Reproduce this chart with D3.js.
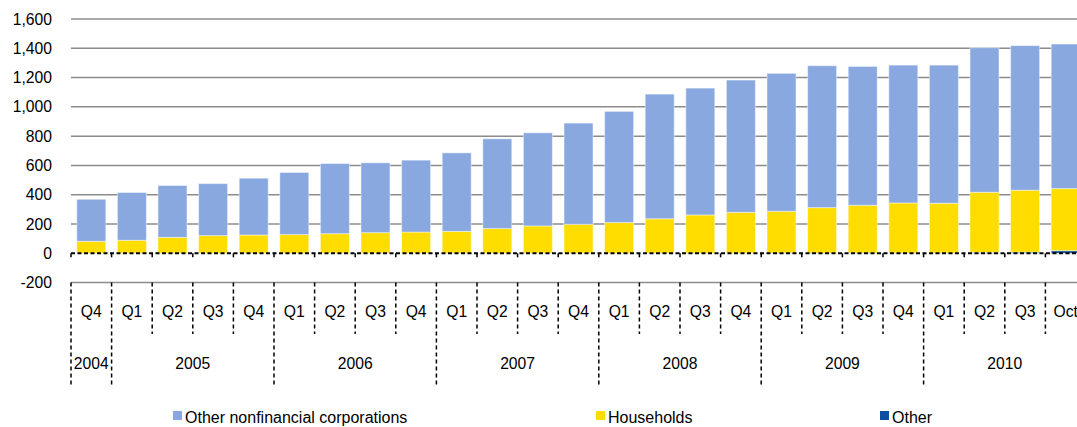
<!DOCTYPE html>
<html lang="en">

<head>
    <meta charset="UTF-8" />
    <title>Stacked bars</title>
    <script src="https://d3js.org/d3.v7.min.js"></script>
    <style>
        body {
            margin: 0;
            background: #fff;
        }

        svg {
            display: block;
            overflow: hidden;
            font-family: "Liberation Sans", Arial, sans-serif;
            font-size: 15.7px;
            fill: #000;
        }

        .grid line {
            stroke: #8c8c8c;
            stroke-width: 1.5px;
        }

        .sep {
            stroke: #000;
            stroke-width: 1.5px;
            stroke-dasharray: 4, 3;
        }
    </style>
</head>

<body>
    <svg width="1077" height="427"></svg>
    <script>
        // categories
        const quarters = ["Q4", "Q1", "Q2", "Q3", "Q4", "Q1", "Q2", "Q3", "Q4", "Q1", "Q2", "Q3", "Q4",
            "Q1", "Q2", "Q3", "Q4", "Q1", "Q2", "Q3", "Q4", "Q1", "Q2", "Q3", "Oct"];
        const years = ["2004", "2005", "2006", "2007", "2008", "2009", "2010"];
        const yearSpans = [1, 4, 4, 4, 4, 4, 4];

        // series (stacked from bottom: other, households, corporations)
        const other = [1, 1, 1, 1, 1, 1, 1, 1, 1, 1, 1, 1, 1, 1, 1, 1, 1, 2, 2, 2, 2, 2, 6, 8, 18];
        const households = [81, 88, 108, 120, 124, 127, 133, 140, 144, 149, 168, 186, 197, 209, 235,
            261, 279, 285, 310, 326, 342, 340, 411, 423, 424];
        const corporations = [287, 326, 354, 355, 388, 424, 479, 477, 491, 536, 613, 636, 691, 759, 851,
            866, 903, 942, 969, 948, 941, 943, 987, 987, 987];

        const seriesNames = ["Other nonfinancial corporations", "Households", "Other"];
        const yTicks = [-200, 0, 200, 400, 600, 800, 1000, 1200, 1400, 1600];

        const colors = {
            corporations: "#89a8e0",
            households: "#ffdd00",
            other: "#0b4ea2"
        };

        var svg = d3.select("svg");
        const left = 71,
            right = 1086; // plot runs past the window edge, last bar is cut

        var x = d3.scaleBand()
            .domain(d3.range(quarters.length))
            .range([left, right])
            .paddingInner(0.286)
            .paddingOuter(0.143);

        var y = d3.scaleLinear()
            .domain([-200, 1600])
            .range([282.6, 19]);

        // left edge of category i
        const bound = i => x(0) + x.bandwidth() / 2 - x.step() / 2 + i * x.step();

        // gridlines (all but zero, which is dashed later)
        svg.append("g")
            .attr("class", "grid")
            .selectAll("line")
            .data(yTicks.filter(d => d !== 0))
            .enter()
            .append("line")
            .attr("x1", left)
            .attr("x2", right)
            .attr("y1", d => y(d))
            .attr("y2", d => y(d));

        // y labels (plain hyphen for negatives)
        const fmt = d3.format(",");
        var yAxis = svg.append("g")
            .attr("transform", "translate(" + 52 + ",0)")
            .call(d3.axisLeft(y).tickValues(yTicks).tickFormat(d => fmt(d).replace("−", "-")).tickSize(0).tickPadding(0));
        yAxis.select(".domain").remove();
        yAxis.selectAll("text")
            .attr("font-family", "Liberation Sans, Arial, sans-serif")
            .attr("font-size", "15.7px")
            .attr("fill", "#000");

        // stacked bars
        const rows = quarters.map((q, i) => ({
            other: other[i],
            households: households[i],
            corporations: corporations[i]
        }));
        const stack = d3.stack().keys(["other", "households", "corporations"]);
        const layers = stack(rows);

        svg.append("g")
            .selectAll("g")
            .data(layers)
            .enter()
            .append("g")
            .attr("fill", d => colors[d.key])
            .selectAll("rect")
            .data(d => d)
            .enter()
            .append("rect")
            .attr("x", (d, i) => x(i))
            .attr("width", x.bandwidth())
            .attr("y", d => y(d[1]))
            .attr("height", d => y(d[0]) - y(d[1]))
            .attr("stroke", "rgba(255,255,255,0.45)")
            .attr("stroke-width", 1);

        // dashed zero line with small ticks
        svg.append("line")
            .attr("x1", left)
            .attr("x2", right)
            .attr("y1", y(0))
            .attr("y2", y(0))
            .attr("stroke", "#000")
            .attr("stroke-width", 2)
            .attr("stroke-dasharray", "4,2.5");
        svg.append("g")
            .selectAll("line")
            .data(d3.range(quarters.length + 1))
            .enter()
            .append("line")
            .attr("x1", d => bound(d))
            .attr("x2", d => bound(d))
            .attr("y1", y(0))
            .attr("y2", y(0) + 4)
            .attr("stroke", "#000")
            .attr("stroke-width", 1.5);

        // category separators: years run deeper than quarters
        const yearStarts = [0];
        yearSpans.forEach(s => yearStarts.push(yearStarts[yearStarts.length - 1] + s));
        svg.append("g")
            .selectAll("line")
            .data(d3.range(quarters.length + 1))
            .enter()
            .append("line")
            .attr("class", "sep")
            .attr("x1", d => bound(d))
            .attr("x2", d => bound(d))
            .attr("y1", y(-200))
            .attr("y2", d => yearStarts.includes(d) ? 385 : 334);

        // quarter labels
        svg.append("g")
            .selectAll("text")
            .data(quarters)
            .enter()
            .append("text")
            .attr("x", (d, i) => x(i) + x.bandwidth() / 2)
            .attr("y", 311.7)
            .attr("dy", "0.35em")
            .attr("text-anchor", "middle")
            .text(d => d);

        // year labels
        svg.append("g")
            .selectAll("text")
            .data(years)
            .enter()
            .append("text")
            .attr("x", (d, i) => (bound(yearStarts[i]) + bound(yearStarts[i + 1])) / 2)
            .attr("y", 363.5)
            .attr("dy", "0.35em")
            .attr("text-anchor", "middle")
            .text(d => d);

        // legend, nudged up a little so descenders stay inside the frame
        const legendX = [173, 596, 880];
        const legendColors = [colors.corporations, colors.households, colors.other];
        var legend = svg.append("g")
            .selectAll("g")
            .data(seriesNames)
            .enter()
            .append("g")
            .attr("transform", (d, i) => "translate(" + legendX[i] + ",411)");
        legend.append("rect")
            .attr("width", 9)
            .attr("height", 9)
            .attr("fill", (d, i) => legendColors[i]);
        legend.append("text")
            .attr("x", 12)
            .attr("y", 6)
            .attr("dy", "0.35em")
            .attr("font-size", "16px")
            .text(d => d);
    </script>
</body>

</html>
